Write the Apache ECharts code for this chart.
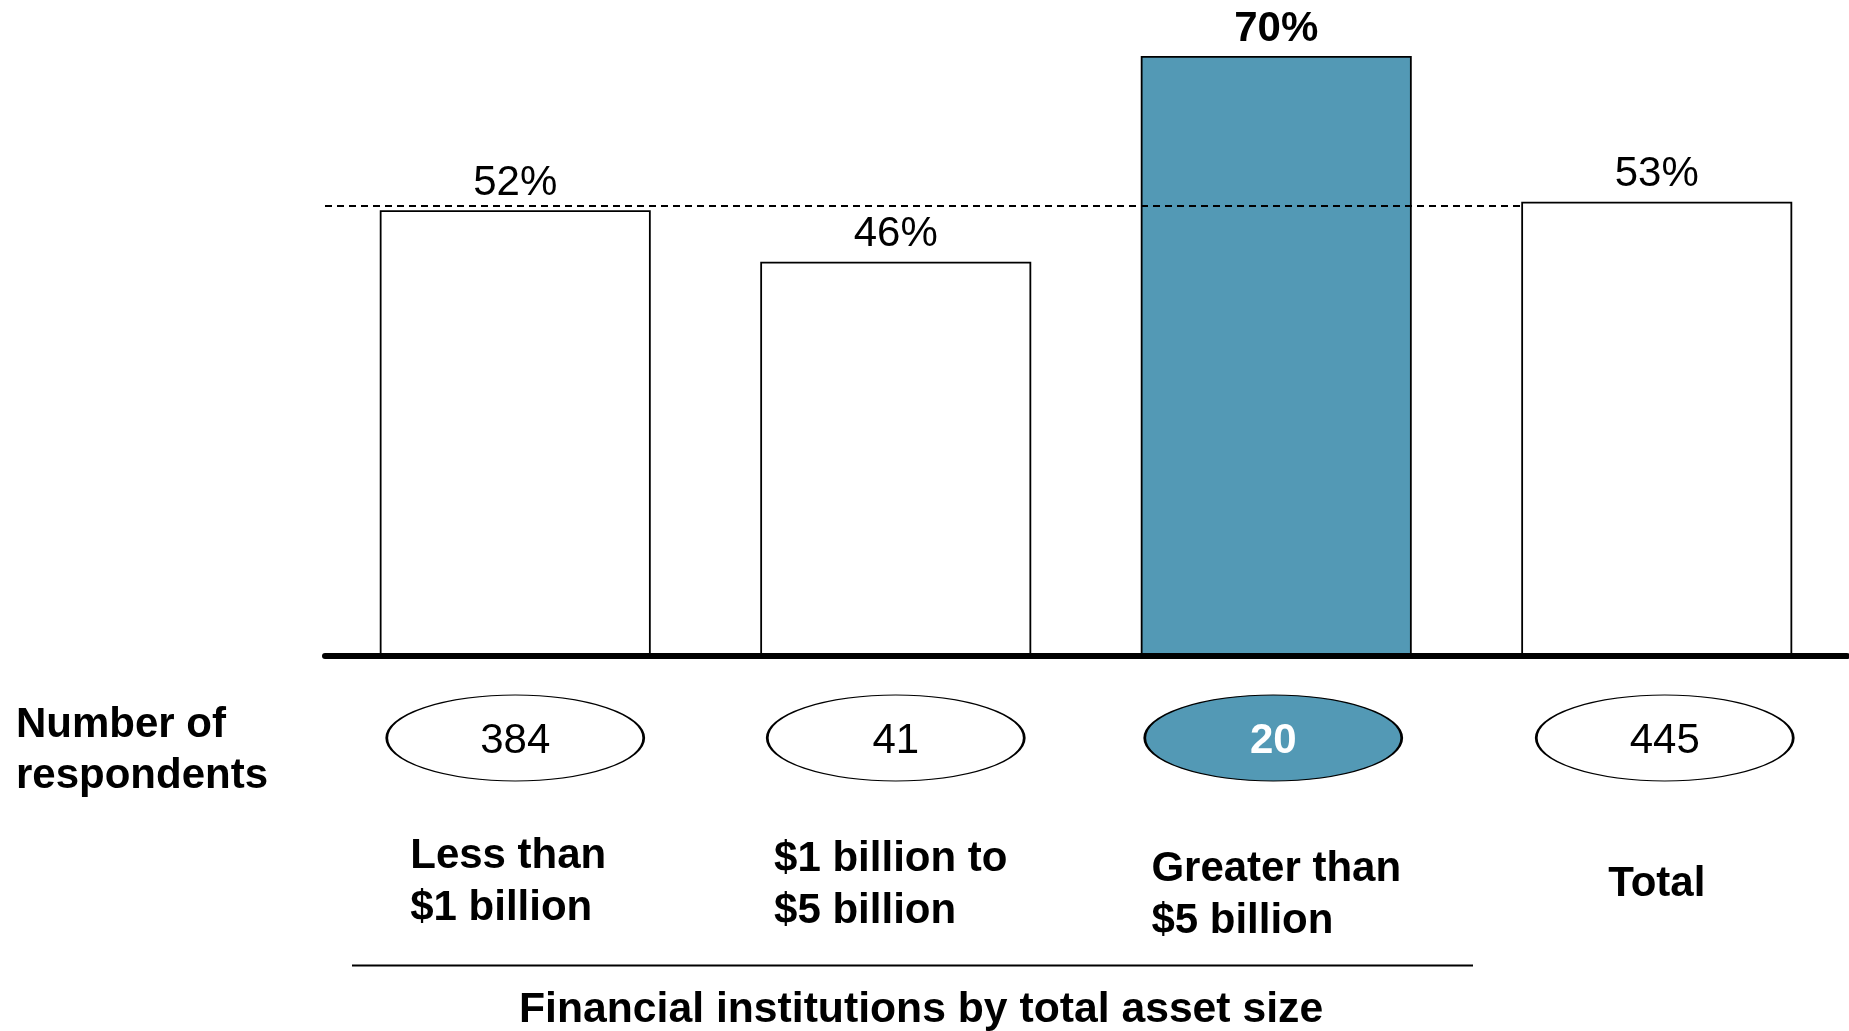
<!DOCTYPE html>
<html>
<head>
<meta charset="utf-8">
<title>Financial institutions by total asset size</title>
<script src="https://cdn.jsdelivr.net/npm/echarts@6/dist/echarts.min.js"></script>
<style>
  html, body { margin: 0; padding: 0; background: #ffffff; }
  #chart { width: 1849px; height: 1031px; }
</style>
</head>
<body>
<div id="chart"></div>
<script>
// Share of respondents per asset-size group
const categories = ['Less than\n$1 billion', '$1 billion to\n$5 billion', 'Greater than\n$5 billion', 'Total'];
const shares = [52, 46, 70, 53];
const respondents = [384, 41, 20, 445];
const benchmark = 52.5;
const highlightIndex = 2;
const totalIndex = 3;

// Styling
const BLUE = '#5399b5';
const FONT = "'Liberation Sans', Arial, Helvetica, sans-serif";
const labelDrop = [2, 5, 15, 30];
const labelShiftRight = [14, 10, 0, 0];
const ovalShift = [0, 0, -3, 8];

const chart = echarts.init(document.getElementById('chart'), null, { renderer: 'canvas' });

const barLabel = {
  show: true,
  position: 'top',
  distance: 6,
  formatter: '{c}%',
  fontFamily: FONT,
  fontSize: 42,
  lineHeight: 42,
  color: '#000'
};

const barItem = { color: '#ffffff', borderColor: '#000000', borderWidth: 1.8 };

const option = {
  animation: false,
  backgroundColor: '#ffffff',
  title: [
    {
      text: 'Number of\nrespondents',
      left: 16, top: 700, padding: 0,
      textStyle: { fontFamily: FONT, fontSize: 42, fontWeight: 'bold', color: '#000', lineHeight: 51 }
    },
    {
      text: 'Financial institutions by total asset size',
      left: 519, top: 984, padding: 0,
      textStyle: { fontFamily: FONT, fontSize: 42.7, fontWeight: 'bold', color: '#000', lineHeight: 52 }
    }
  ],
  graphic: [
    {
      type: 'line',
      shape: { x1: 352, y1: 965.5, x2: 1473, y2: 965.5 },
      style: { stroke: '#000', lineWidth: 2 },
      silent: true
    }
  ],
  grid: [
    { left: 325, right: 2, top: 56, bottom: 375 },
    { left: 325, right: 2, top: 695, bottom: 250 }
  ],
  xAxis: [
    {
      type: 'category',
      gridIndex: 0,
      z: 10,
      data: categories.map((c, i) => ({
        value: c,
        textStyle: { padding: [labelDrop[i], labelShiftRight[i], 0, 0] }
      })),
      axisLine: { show: true, lineStyle: { color: '#000', width: 6, cap: 'round' } },
      axisTick: { show: false },
      axisLabel: {
        interval: 0,
        margin: 172,
        formatter: v => v.split('\n').map(s => '{t|' + s + '}').join('\n'),
        rich: {
          t: { align: 'left', fontFamily: FONT, fontSize: 42, fontWeight: 'bold', color: '#000', lineHeight: 52 }
        }
      }
    },
    { type: 'value', gridIndex: 0, min: -0.5, max: categories.length - 0.5, show: false },
    { type: 'category', gridIndex: 1, data: categories, show: false }
  ],
  yAxis: [
    { type: 'value', gridIndex: 0, min: 0, max: 70, show: false },
    { type: 'value', gridIndex: 1, min: -1, max: 1, show: false }
  ],
  series: [
    {
      name: 'groups',
      type: 'bar',
      xAxisIndex: 0, yAxisIndex: 0,
      z: 2,
      barWidth: 271,
      barGap: '-100%',
      silent: true,
      itemStyle: barItem,
      label: barLabel,
      data: shares.map((v, i) => {
        if (i === totalIndex) return '-';
        if (i === highlightIndex) {
          return { value: v, itemStyle: { color: BLUE }, label: { fontWeight: 'bold' } };
        }
        return v;
      })
    },
    {
      name: 'benchmark',
      type: 'line',
      xAxisIndex: 1, yAxisIndex: 0,
      z: 3,
      silent: true,
      symbol: 'none',
      lineStyle: { color: '#000', width: 2, type: [7, 5] },
      data: [[-0.5, benchmark], [totalIndex, benchmark]]
    },
    {
      name: 'total',
      type: 'bar',
      xAxisIndex: 0, yAxisIndex: 0,
      z: 4,
      barWidth: 271,
      barGap: '-100%',
      silent: true,
      itemStyle: barItem,
      label: barLabel,
      data: shares.map((v, i) => (i === totalIndex ? v : '-'))
    },
    {
      name: 'respondents',
      type: 'scatter',
      xAxisIndex: 2, yAxisIndex: 1,
      silent: true,
      symbol: 'circle',
      symbolSize: [257, 86],
      itemStyle: { color: '#ffffff', borderColor: '#000', borderWidth: 1.6, opacity: 1 },
      label: {
        show: true,
        position: 'inside',
        offset: [0, 3],
        formatter: p => String(p.value[2]),
        fontFamily: FONT,
        fontSize: 42,
        color: '#000'
      },
      data: respondents.map((n, i) => {
        const item = {
          value: [i, 0, n],
          symbolOffset: [ovalShift[i], 0]
        };
        if (i === highlightIndex) {
          item.itemStyle = { color: BLUE };
          item.label = { color: '#ffffff', fontWeight: 'bold' };
        }
        return item;
      })
    }
  ]
};

chart.setOption(option);
</script>
</body>
</html>
